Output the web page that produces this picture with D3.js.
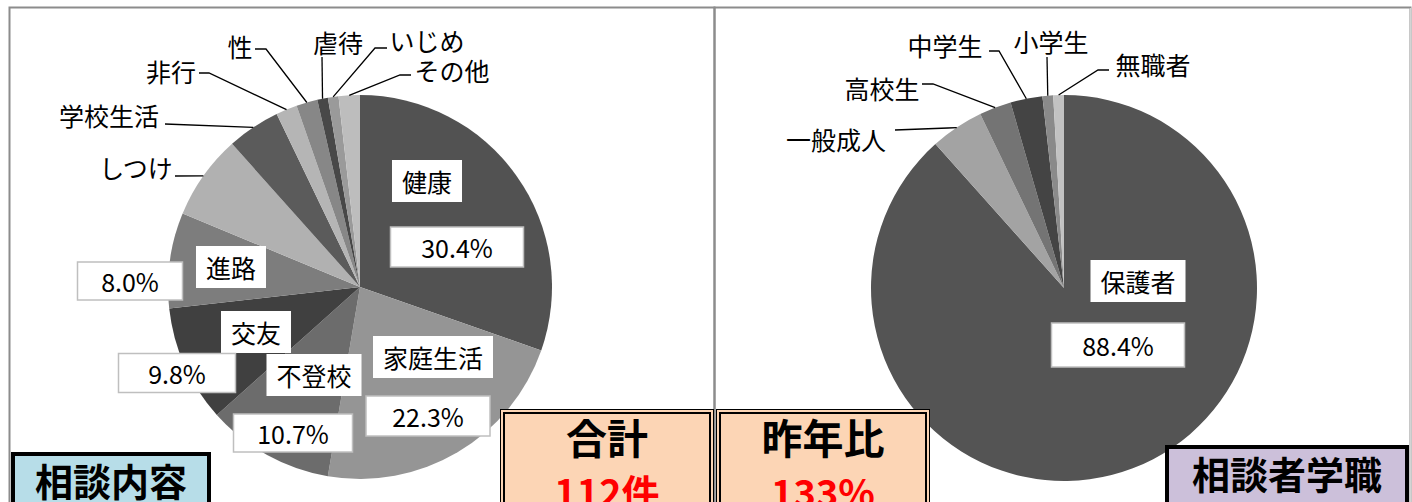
<!DOCTYPE html>
<html>
<head>
<meta charset="utf-8">
<script src="https://cdn.jsdelivr.net/npm/d3@7"></script>
<style>
  body { margin: 0; background: #fff; }
  text { font-family: "Noto Sans CJK JP", sans-serif; }
</style>
</head>
<body>
<svg id="chart" width="1412" height="502"></svg>
<script>
// 相談内容 (counts)
const contentCategories = ["健康", "家庭生活", "不登校", "交友", "進路", "しつけ", "学校生活", "非行", "性", "虐待", "いじめ", "その他"];
const contentCounts = [34, 25, 12, 11, 9, 8, 5, 2, 2, 1, 1, 2];

// 相談者学職 (counts)
const clientCategories = ["保護者", "一般成人", "高校生", "中学生", "小学生", "無職者"];
const clientCounts = [99, 5, 3, 3, 1, 1];

// 昨年比
const lastYearRatio = 1.33;

// styles
const contentColors = ["#525252", "#959595", "#6c6c6c", "#404040", "#7d7d7d", "#b1b1b1", "#5b5b5b", "#b5b5b5", "#878787", "#484848", "#9a9a9a", "#bdbdbd"];
const clientColors = ["#545454", "#a3a3a3", "#747474", "#444444", "#8a8a8a", "#c2c2c2"];

const labelSize = 25;
const svg = d3.select("#chart");
const fmtPct = d3.format(".1%");

// panel frames
svg.append("rect")
  .attr("x", 9.5).attr("y", 7.5).attr("width", 705).attr("height", 520)
  .attr("fill", "none").attr("stroke", "#8c8c8c").attr("stroke-width", 2);
svg.append("path")
  .attr("d", "M714.5,527V7.5H1410.5V527")
  .attr("fill", "none").attr("stroke", "#8c8c8c").attr("stroke-width", 2);
svg.append("line")
  .attr("x1", 1410.5).attr("x2", 1410.5).attr("y1", 8).attr("y2", 502)
  .attr("stroke", "#d4d4d4").attr("stroke-width", 1.5);

function drawPie(cfg) {
  const total = d3.sum(cfg.values);
  const pie = d3.pie().sort(null).value(d => d)(cfg.values);
  const arc = d3.arc().innerRadius(0).outerRadius(cfg.r);
  const edge = d3.arc().innerRadius(cfg.r).outerRadius(cfg.r);

  const g = svg.append("g").attr("transform", `translate(${cfg.cx},${cfg.cy})`);
  g.selectAll("path.slice")
    .data(pie)
    .join("path")
    .attr("class", "slice")
    .attr("d", arc)
    .attr("fill", (d, i) => cfg.colors[i]);

  // outside labels with leader lines
  cfg.outside.forEach(o => {
    const i = cfg.labels.indexOf(o.name);
    const [ex, ey] = edge.centroid(pie[i]);
    const pts = o.line.map(p => [p[0] - cfg.cx, p[1] - cfg.cy]);
    pts.push([ex, ey]);
    g.append("path")
      .attr("d", d3.line()(pts))
      .attr("fill", "none").attr("stroke", "#000").attr("stroke-width", 1.3);
    svg.append("text")
      .attr("x", o.at[0]).attr("y", o.at[1])
      .attr("text-anchor", "middle").attr("dominant-baseline", "central")
      .attr("font-size", labelSize).attr("fill", "#000")
      .text(o.name);
  });

  // inside labels: name box + percentage box
  cfg.inside.forEach(o => {
    const i = cfg.labels.indexOf(o.name);
    const t = svg.append("text")
      .attr("x", o.at[0]).attr("y", o.at[1])
      .attr("text-anchor", "middle").attr("dominant-baseline", "central")
      .attr("font-size", labelSize).attr("fill", "#000")
      .text(o.name);
    const bb = t.node().getBBox();
    svg.insert("rect", () => t.node())
      .attr("x", bb.x - 10).attr("y", o.at[1] - 21)
      .attr("width", bb.width + 20).attr("height", 42)
      .attr("fill", "#fff");

    svg.append("rect")
      .attr("x", o.pct[0] - o.w / 2).attr("y", o.pct[1] - o.h / 2)
      .attr("width", o.w).attr("height", o.h)
      .attr("fill", "#fff").attr("stroke", "#bfbfbf").attr("stroke-width", 1.5);
    svg.append("text")
      .attr("x", o.pct[0]).attr("y", o.pct[1])
      .attr("text-anchor", "middle").attr("dominant-baseline", "central")
      .attr("font-size", labelSize).attr("fill", "#000")
      .text(fmtPct(cfg.values[i] / total));
  });
  return total;
}

const totalCount = drawPie({
  cx: 360, cy: 287, r: 192,
  values: contentCounts, labels: contentCategories, colors: contentColors,
  outside: [
    { name: "しつけ", at: [136, 167], line: [[175, 176]] },
    { name: "学校生活", at: [109, 115], line: [[165, 124]] },
    { name: "非行", at: [171, 71], line: [[199, 73], [209, 73]] },
    { name: "性", at: [240, 46], line: [[255, 49], [266, 49]] },
    { name: "虐待", at: [338, 42], line: [[322, 57]] },
    { name: "いじめ", at: [427, 40], line: [[387, 48], [375, 48]] },
    { name: "その他", at: [452, 70], line: [[411, 75], [400, 75]] }
  ],
  inside: [
    { name: "健康", at: [427, 181], pct: [457, 247], w: 133, h: 40 },
    { name: "家庭生活", at: [433, 357], pct: [428, 416], w: 124, h: 40 },
    { name: "不登校", at: [314, 375], pct: [293, 433], w: 119, h: 38 },
    { name: "交友", at: [256, 332], pct: [177, 373], w: 117, h: 39 },
    { name: "進路", at: [231, 267], pct: [130, 281], w: 105, h: 38 }
  ]
});

drawPie({
  cx: 1064, cy: 288, r: 193,
  values: clientCounts, labels: clientCategories, colors: clientColors,
  outside: [
    { name: "一般成人", at: [836, 139], line: [[895, 130], [948, 128]] },
    { name: "高校生", at: [882, 88], line: [[922, 84], [933, 84]] },
    { name: "中学生", at: [945, 45], line: [[989, 51], [999, 51]] },
    { name: "小学生", at: [1051, 41], line: [[1047, 57]] },
    { name: "無職者", at: [1153, 64], line: [[1109, 70], [1098, 70]] }
  ],
  inside: [
    { name: "保護者", at: [1138, 281], pct: [1118, 345], w: 133, h: 44 }
  ]
});

// title boxes
function titleBox(x, y, w, h, fill, label, ty) {
  svg.append("rect")
    .attr("x", x).attr("y", y).attr("width", w).attr("height", h)
    .attr("fill", fill).attr("stroke", "#000").attr("stroke-width", 4);
  svg.append("text")
    .attr("x", x + w / 2).attr("y", ty)
    .attr("text-anchor", "middle").attr("dominant-baseline", "central")
    .attr("font-size", 38).attr("font-weight", 700).attr("fill", "#000")
    .text(label);
}
titleBox(13, 454, 196, 60, "#b7dde8", "相談内容", 479);
titleBox(1167, 447, 240, 66, "#ccc0da", "相談者学職", 472);

function summaryBox(x, head, value) {
  const g = svg.append("g");
  g.append("rect")
    .attr("x", x + 0.5).attr("y", 409.5).attr("width", 213).attr("height", 100)
    .attr("fill", "#fcd5b5").attr("stroke", "#000").attr("stroke-width", 1);
  g.append("rect")
    .attr("x", x + 4).attr("y", 413).attr("width", 206).attr("height", 100)
    .attr("fill", "none").attr("stroke", "#000").attr("stroke-width", 2);
  g.append("text")
    .attr("x", x + 107).attr("y", 436)
    .attr("text-anchor", "middle").attr("dominant-baseline", "central")
    .attr("font-size", 41).attr("font-weight", 700).attr("fill", "#000")
    .text(head);
  g.append("text")
    .attr("x", x + 107).attr("y", 490)
    .attr("text-anchor", "middle").attr("dominant-baseline", "central")
    .attr("font-size", 38).attr("font-weight", 700).attr("fill", "#ff0000")
    .text(value);
}
summaryBox(500, "合計", totalCount + "件");
summaryBox(716, "昨年比", d3.format(".0%")(lastYearRatio));
</script>
</body>
</html>
